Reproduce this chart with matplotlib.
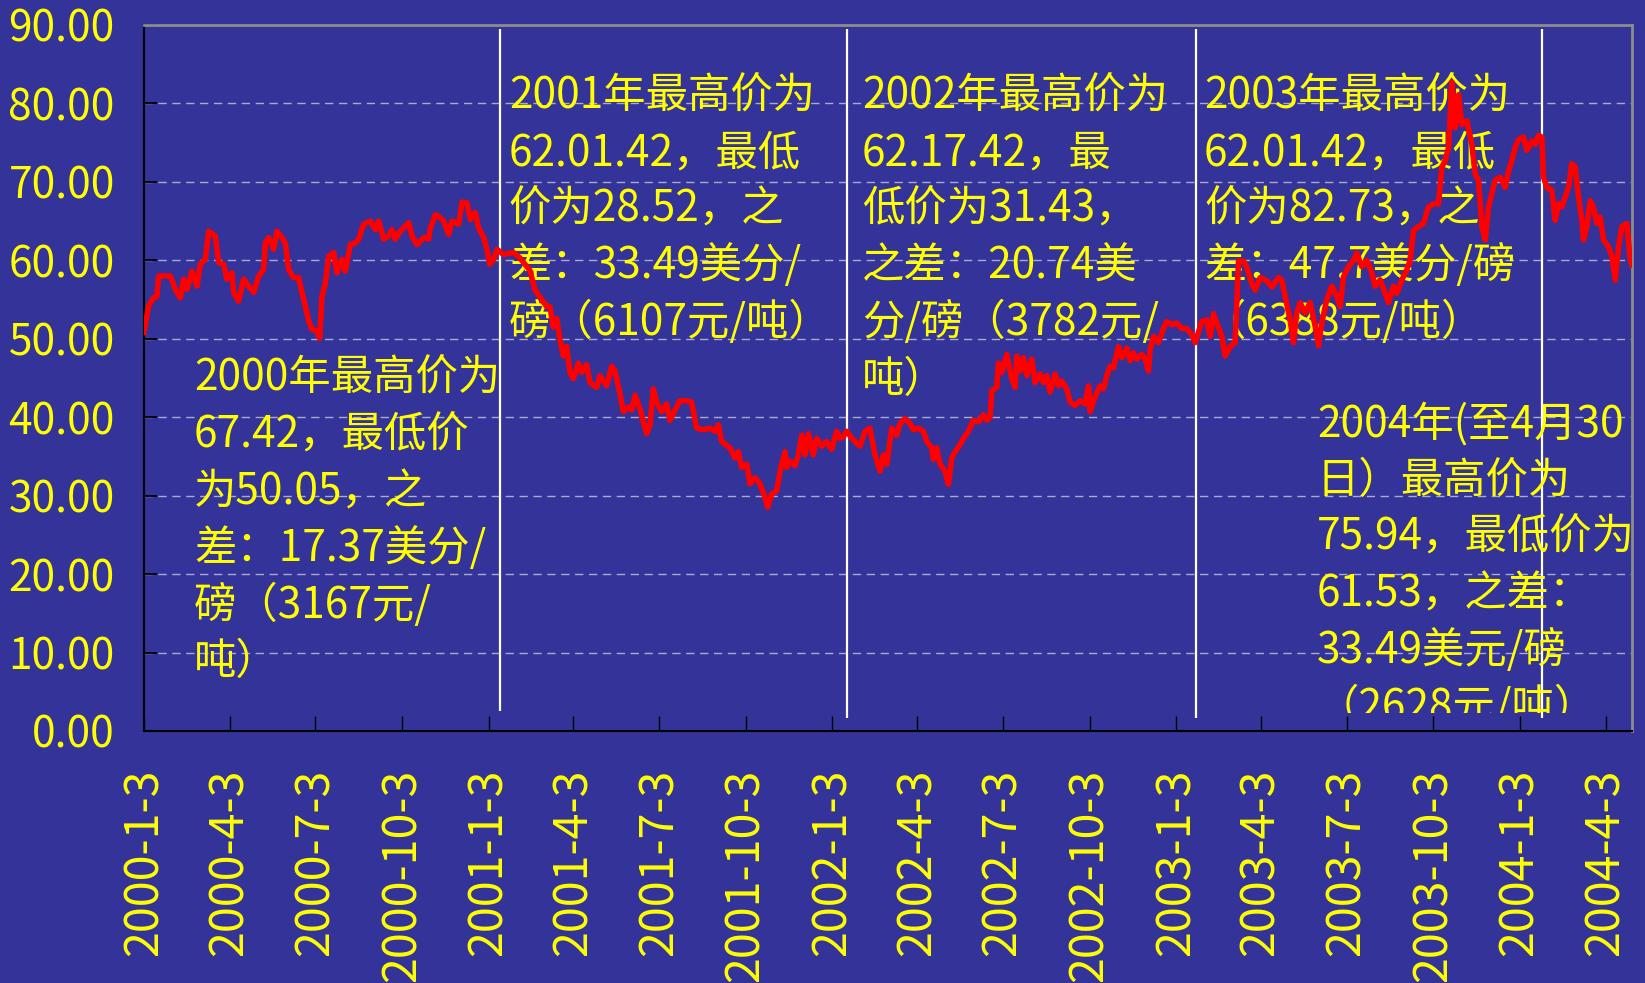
import numpy as np
import pandas as pd
import matplotlib
matplotlib.use('Agg')
import matplotlib.pyplot as plt
from matplotlib.ticker import FormatStrFormatter
from matplotlib.transforms import Bbox, TransformedBbox

#=============================================================================
#                              DONNEES
#=============================================================================

start = pd.Timestamp('2000-01-03')

# jours depuis le 2000-1-3 et prix (cents/livre)
days_2000 = [0, 5, 10, 13.8, 15.6, 20.9, 28, 33.3, 38.6, 42.1, 45.7, 51, 56.3, 59.8,
             65.1, 68.7, 75.7, 79.3, 84.6, 88.1, 93.4, 95.2, 100.5, 105.8, 111.1,
             116.5, 121.8, 127.1, 128.8, 132.4, 137.7, 141.2, 146.5, 150.1, 153.6,
             158.9, 164.2, 167.8, 171.3, 174.9, 178.4, 183.7, 186.5, 189, 192.6,
             196.1, 201.4, 204.9, 210.3, 213.8, 219.1, 224.4, 228, 233.3, 240.3,
             245.7, 249.2, 254.5, 259.8, 263.4, 266.9, 272.2, 281.1, 284.6, 289.9,
             297, 302.3, 304.1, 309.4, 312.9, 318.2, 323.5, 327.1, 334.2, 337.7,
             343, 346.5, 351.8, 355.4, 360.7, 364.2]
price_2000 = [50.8, 54.2, 55.2, 55.4, 58.0, 58.0, 58.0, 56.3, 55.2, 57.6, 56.3, 58.6,
              56.7, 59.5, 60.1, 63.7, 63.1, 59.7, 59.5, 57.6, 58.4, 55.9, 54.8, 57.6,
              56.7, 55.9, 58.0, 58.8, 62.2, 62.9, 61.4, 63.7, 62.9, 62.2, 58.8, 57.8,
              57.8, 55.9, 54.2, 52.3, 51.2, 51.0, 50.05, 55.4, 57.1, 60.5, 61.0, 58.4,
              60.1, 58.6, 62.0, 62.2, 62.7, 64.6, 65.0, 63.9, 65.0, 62.7, 63.1, 63.9,
              62.7, 63.7, 64.8, 63.1, 62.0, 62.9, 62.7, 64.1, 65.8, 65.6, 65.0, 63.3,
              65.0, 64.6, 67.42, 67.3, 65.2, 66.1, 64.1, 62.9, 61.4]

days_2001 = [367.1, 371.3, 374.9, 381.5, 392.2, 399.2, 409.9, 415.2, 420.5, 427.6,
             431.1, 434.6, 438.2, 441.7, 445.3, 448.8, 452.3, 455.9, 461.2, 464.7,
             470.0, 473.6, 480.7, 484.2, 491.3, 496.6, 500.1, 505.4, 509.0, 514.3,
             517.8, 521.4, 526.7, 530.2, 533.8, 537.3, 540.8, 544.4, 549.7, 555.0,
             558.5, 563.8, 569.2, 576.2, 581.5, 586.8, 593.9, 601.0, 606.3, 609.9,
             613.4, 622.2, 627.6, 631.1, 634.6, 640.0, 643.5, 648.8, 654.1, 659.4,
             662.3, 666.5, 671.8, 675.4, 680.7, 682.4, 686.0, 691.3, 694.8, 698.4,
             701.9, 705.4, 710.7, 714.3, 719.6, 724.9, 730.2]
price_2001 = [59.5, 60.1, 61.4, 60.75, 61.0, 60.3, 58.7, 56.2, 55.3, 54.1, 54.1, 51.5,
              52.6, 49.9, 47.8, 49.0, 45.7, 44.9, 46.9, 45.7, 46.7, 44.4, 43.8, 45.3,
              44.0, 46.5, 45.9, 43.0, 40.7, 41.3, 40.9, 42.8, 41.1, 39.4, 37.9, 39.0,
              43.6, 41.9, 40.7, 41.7, 39.6, 40.9, 42.1, 42.1, 41.9, 38.6, 38.4, 38.6,
              38.2, 39.0, 36.9, 36.1, 34.8, 35.6, 33.6, 34.0, 31.5, 32.3, 31.5, 29.8,
              28.52, 30.2, 30.6, 33.1, 35.6, 33.6, 34.4, 33.8, 35.2, 37.7, 35.2, 37.9,
              35.2, 37.3, 36.3, 36.9, 35.9]

days_2002 = [735.5, 739.1, 742.6, 746.1, 753.2, 760.3, 765.6, 770.9, 776.2,
             781.6, 785.1, 788.7, 794.0, 799.3, 802.8, 808.1, 813.5, 817.0, 822.3,
             827.6, 831.2, 836.5, 838.2, 841.8, 845.3, 850.6, 854.2, 857.7, 861.3,
             866.6, 870.1, 875.4, 880.7, 886.0, 891.3, 894.9, 898.4, 900.2, 905.5,
             907.3, 910.8, 916.1, 921.4, 925.0, 926.7, 930.3, 933.8, 937.4, 942.7,
             946.2, 951.5, 955.1, 958.6, 962.1, 967.4, 971.0, 974.5, 979.8, 983.4,
             988.7, 994.0, 999.3, 1002.9, 1004.6, 1009.9, 1015.2, 1018.8, 1022.3,
             1025.9, 1029.4, 1034.7, 1038.3, 1043.6, 1047.1, 1050.6, 1054.2, 1059.5,
             1063.0, 1066.6, 1068.3, 1071.9, 1077.2, 1082.5, 1086.0, 1091.4]
price_2002 = [38.2, 37.3, 37.5, 38.2, 37.1, 36.3, 38.2, 38.6, 35.2,
              33.1, 35.2, 34.0, 38.6, 37.7, 39.2, 39.8, 39.2, 38.4, 38.6, 38.2, 36.9,
              36.1, 34.6, 36.1, 34.0, 33.1, 31.43, 34.8, 35.6, 36.5, 37.3, 38.2, 39.6,
              39.4, 40.3, 39.6, 40.0, 43.4, 43.8, 46.9, 45.7, 48.0, 44.9, 43.8, 47.8,
              45.9, 47.6, 45.3, 47.4, 44.4, 45.5, 44.4, 45.3, 43.2, 45.5, 44.0, 44.6,
              43.6, 41.9, 41.5, 42.1, 41.7, 44.0, 40.7, 42.6, 44.0, 43.6, 45.3, 46.5,
              46.3, 49.0, 47.6, 48.8, 47.2, 48.2, 47.4, 48.0, 47.4, 45.9, 48.6, 50.3,
              49.5, 51.3, 52.2, 51.8]

days_2003 = [1096.7, 1102.0, 1107.3, 1112.6, 1116.1, 1123.2, 1128.5, 1132.1, 1135.6,
             1139.1, 1144.5, 1148.0, 1153.3, 1158.6, 1162.2, 1167.5, 1171.0, 1176.3,
             1179.9, 1185.2, 1192.2, 1197.6, 1204.6, 1208.1, 1211.7, 1217.0, 1220.5,
             1224.1, 1227.6, 1232.9, 1238.2, 1243.6, 1247.1, 1250.6, 1255.9, 1261.3,
             1266.6, 1270.1, 1273.6, 1279.0, 1284.3, 1287.8, 1293.1, 1298.4, 1303.7,
             1307.3, 1312.6, 1317.9, 1321.4, 1326.7, 1330.3, 1335.6, 1340.9, 1344.4,
             1348.0, 1353.3, 1358.6, 1363.9, 1369.2, 1374.5, 1378.1, 1381.6, 1385.2,
             1386.9, 1388.7, 1392.2, 1395.8, 1399.3, 1404.6, 1409.9, 1413.5, 1417.0,
             1420.6, 1424.1, 1427.6, 1431.2, 1434.7, 1440.0, 1445.3, 1448.9, 1452.4,
             1456.0, 1459.5]
price_2003 = [52.0, 51.3, 51.3, 50.5, 49.5, 52.2, 52.4, 50.3, 53.2, 52.0, 50.3, 47.8,
              49.0, 49.5, 59.9, 59.9, 59.1, 57.0, 56.2, 57.8, 57.4, 56.6, 57.8,
              57.5, 55.4, 52.4, 49.5, 53.3, 54.6, 53.3, 54.6, 51.6, 49.1, 52.0, 55.0,
              56.7, 55.4, 54.1, 57.9, 59.2, 60.0, 60.9, 59.2, 60.0, 58.4, 56.7, 57.5,
              55.8, 54.6, 56.7, 55.8, 57.5, 58.8, 60.0, 63.8, 64.3, 64.7, 66.8, 67.2,
              67.2, 71.9, 72.7, 74.4, 78.6, 82.73, 76.9, 81.1, 77.3, 77.8, 74.8, 71.0,
              70.2, 64.3, 62.6, 66.8, 68.5, 70.2, 70.6, 69.3, 71.4, 72.7, 74.4, 75.4]

days_2004 = [1464.8, 1468.3, 1473.7, 1477.2, 1480.7, 1484.3, 1486.0, 1489.6, 1494.9,
             1498.4, 1502.0, 1505.5, 1509.1, 1512.6, 1516.1, 1519.7, 1523.2, 1526.8,
             1528.5, 1532.1, 1535.6, 1539.1, 1542.7, 1546.2, 1549.8, 1555.1, 1558.6,
             1562.2, 1565.7, 1569.2, 1574.5, 1578.1, 1579.9]
price_2004 = [75.7, 74.0, 75.2, 74.8, 75.94, 75.7, 70.6, 69.3, 68.9, 65.1, 67.2, 66.8,
              68.1, 69.3, 72.3, 71.9, 68.1, 65.1, 62.6, 64.3, 67.6, 66.8, 64.7, 65.5,
              62.6, 61.7, 60.5, 57.5, 61.7, 64.3, 64.7, 60.0, 59.4]

tick_labels = ['2000-1-3', '2000-4-3', '2000-7-3', '2000-10-3',
               '2001-1-3', '2001-4-3', '2001-7-3', '2001-10-3',
               '2002-1-3', '2002-4-3', '2002-7-3', '2002-10-3',
               '2003-1-3', '2003-4-3', '2003-7-3', '2003-10-3',
               '2004-1-3', '2004-4-3']

# séparations entre années (lignes blanches) et leur bas
year_lines = ['2001-01-15', '2002-01-19', '2003-01-24', '2004-01-26']
year_lines_bottom = [2.5, 1.6, 1.6, 1.6]

box_2000 = ['2000年最高价为', '67.42，最低价', '为50.05，之', '差：17.37美分/',
            '磅（3167元/', '吨）']
box_2001 = ['2001年最高价为', '62.01.42，最低', '价为28.52，之', '差：33.49美分/',
            '磅（6107元/吨）']
box_2002 = ['2002年最高价为', '62.17.42，最', '低价为31.43，', '之差：20.74美',
            '分/磅（3782元/', '吨）']
box_2003 = ['2003年最高价为', '62.01.42，最低', '价为82.73，之', '差：47.7美分/磅',
            '（6388元/吨）']
box_2004 = ['2004年(至4月30', '日）最高价为', '75.94，最低价为', '61.53，之差：',
            '33.49美元/磅', '（2628元/吨）']

#=============================================================================
#                              FIGURE
#=============================================================================

plt.rcParams['font.family'] = ['Noto Sans CJK SC', 'DejaVu Sans']

bleu = '#333399'
jaune = '#ffff00'

days = days_2000 + days_2001 + days_2002 + days_2003 + days_2004
prices = price_2000 + price_2001 + price_2002 + price_2003 + price_2004
dates = (start + pd.to_timedelta(np.array(days), unit='D')).to_numpy()

fig = plt.figure(figsize=(16.45, 9.83), dpi=100)
fig.patch.set_facecolor(bleu)
ax = fig.add_axes([0.0875, 0.2564, 0.9046, 0.7182])
ax.set_facecolor(bleu)

ax.plot(dates, prices, color='#ff0000', lw=4.0, solid_joinstyle='round', zorder=4)

ax.vlines(pd.to_datetime(year_lines).to_numpy(), year_lines_bottom, 89.5,
          colors='white', lw=1.6, zorder=2)

ax.set_xlim(start.to_datetime64(), (start + pd.Timedelta(days=1580)).to_datetime64())
ax.set_ylim(0, 90)
ax.set_yticks(np.arange(0, 91, 10))
ax.yaxis.set_major_formatter(FormatStrFormatter('%.2f'))
ax.set_xticks(pd.to_datetime(tick_labels).to_numpy())
ax.set_xticklabels(tick_labels, rotation=90)

ax.yaxis.grid(True, color='#aaaacc', lw=1.0, linestyle=(0, (6, 4)), zorder=1)
ax.set_axisbelow(True)

ax.tick_params(axis='y', direction='in', length=9.5, width=1.3, color='black',
               pad=21, labelsize=30.5, labelcolor=jaune)
ax.tick_params(axis='x', direction='in', length=11, width=1.0, color='black',
               pad=27, labelsize=33.5, labelcolor=jaune)

for cote in ['top', 'right']:
    ax.spines[cote].set_color('#8c8c8c')
    ax.spines[cote].set_linewidth(2)
for cote in ['left', 'bottom']:
    ax.spines[cote].set_color('black')
    ax.spines[cote].set_linewidth(1.5)

#-----------------------------------------------------------------------------
# textes des années

pas = 0.0802
zone = TransformedBbox(Bbox([[0, 0.0255], [1, 1]]), ax.transAxes)
for lignes, x0, y0 in [(box_2000, 0.0336, 0.4985),
                       (box_2001, 0.2453, 0.8985),
                       (box_2002, 0.4825, 0.8985),
                       (box_2003, 0.7124, 0.8985),
                       (box_2004, 0.7883, 0.4338)]:
    for i, ligne in enumerate(lignes):
        t = ax.text(x0, y0 - i * pas, ligne, transform=ax.transAxes, ha='left',
                    va='center', fontsize=30.5, color=jaune, zorder=3)
        t.set_clip_box(zone)
        t.set_clip_on(True)

fig.savefig('out.png', dpi=100, facecolor=bleu)
